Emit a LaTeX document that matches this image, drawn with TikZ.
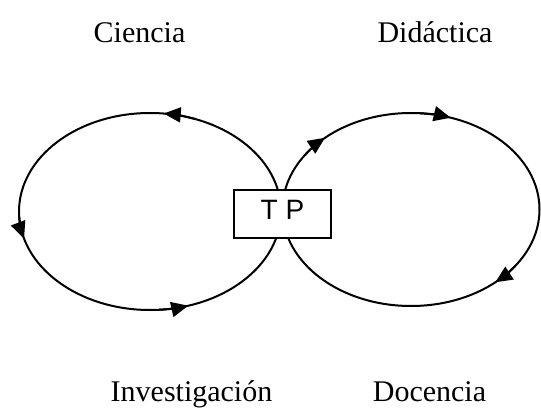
\documentclass[tikz,border=0pt]{standalone}
\usepackage{fontspec}
\setmainfont{Liberation Serif}
\newfontfamily\boxfont{Liberation Sans}
\usetikzlibrary{arrows.meta,calc}

\tikzset{
  loopline/.style={line width=2pt, black},
  flowtip/.style={loopline, -{Triangle[length=17pt,width=15pt]}},
  corner/.style={font=\fontsize{30}{36}\selectfont, anchor=base, inner sep=0pt},
  tpbox/.style={draw, line width=1.5pt, fill=white, minimum width=97pt, minimum height=48pt,
    inner sep=0pt, text height=20pt, text depth=10pt,
    font=\boxfont\fontsize{28}{32}\selectfont}
}

\begin{document}
\begin{tikzpicture}[x=1pt, y=1pt]
\useasboundingbox (0,0) rectangle (541,408);

% centres of the two loops
\coordinate (Lc) at (150,196.5);
\coordinate (Rc) at (411,198.5);

% left loop (counter-clockwise)
\draw[loopline] (Lc) ellipse[x radius=131pt, y radius=98.5pt];
\draw[flowtip] ($(Lc)+({131*cos(70)},{98.5*sin(70)})$)
  arc[start angle=70, end angle=84, x radius=131pt, y radius=98.5pt];
\draw[flowtip] ($(Lc)+({131*cos(183)},{98.5*sin(183)})$)
  arc[start angle=183, end angle=196, x radius=131pt, y radius=98.5pt];
\draw[flowtip] ($(Lc)+({131*cos(274)},{98.5*sin(274)})$)
  arc[start angle=274, end angle=287, x radius=131pt, y radius=98.5pt];

% right loop (clockwise)
\draw[loopline] (Rc) ellipse[x radius=128.5pt, y radius=96.5pt];
\draw[flowtip] ($(Rc)+({128.5*cos(86)},{96.5*sin(86)})$)
  arc[start angle=86, end angle=72, x radius=128.5pt, y radius=96.5pt];
\draw[flowtip] ($(Rc)+({128.5*cos(146)},{96.5*sin(146)})$)
  arc[start angle=146, end angle=132, x radius=128.5pt, y radius=96.5pt];
\draw[flowtip] ($(Rc)+({128.5*cos(-36)},{96.5*sin(-36)})$)
  arc[start angle=-36, end angle=-49, x radius=128.5pt, y radius=96.5pt];

% central box
\node[tpbox] (tp) at (282.5,194) {T P};

% labels
\node[corner] (ciencia) at (139.5,365.3) {Ciencia};
\node[corner] (didactica) at (435,365.3) {Didáctica};
\node[corner] (investigacion) at (191.5,6.3) {Investigación};
\node[corner] (docencia) at (429.5,6.3) {Docencia};
\end{tikzpicture}
\end{document}
